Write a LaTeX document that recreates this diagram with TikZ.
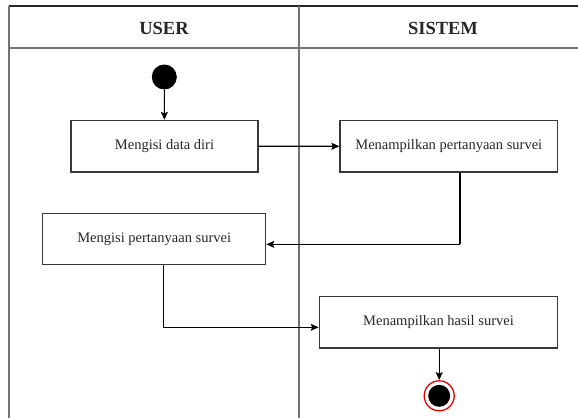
\documentclass[tikz,border=0pt]{standalone}
\usepackage{fontspec}
\setmainfont{Liberation Serif}
\usetikzlibrary{arrows.meta}
\begin{document}
\begin{tikzpicture}[x=1bp,y=-1bp,
  lane/.style={draw=black!55, line width=2bp},
  topline/.style={draw=black!85, line width=1.5bp},
  head/.style={font=\fontsize{18.5bp}{22bp}\selectfont\bfseries, text=black!85},
  act/.style={draw=black!78, line width=1.2bp, fill=white, inner sep=0pt,
    minimum height=51.5bp, font=\fontsize{14.5bp}{17bp}\selectfont, text=black!85},
  flow/.style={draw=black, line width=1.1bp, -{Stealth[length=8bp,width=7bp,inset=1.5bp]}},
  line/.style={draw=black, line width=1.1bp}]
  \useasboundingbox (0,0) rectangle (578,417);
  \fill[white] (0,0) rectangle (578,417);
  \clip (0,0) rectangle (578,417);

  % swimlane frame
  \draw[topline] (8.7,6) -- (585,6);
  \draw[lane] (8.7,6) -- (8.7,425);
  \draw[lane] (8.7,47.7) -- (585,47.7);
  \draw[lane] (299,6) -- (299,425);
  \node[head] (huser) at (164,28) {USER};
  \node[head] (hsistem) at (443,28) {SISTEM};

  % states and activities
  \fill[black] (164.3,77) circle (12.5);
  \node[circle, minimum size=25bp, inner sep=0pt] (start) at (164.3,77) {};
  \node[act, minimum width=187bp] (isi) at (164.5,146.2) {Mengisi data diri};
  \node[act, minimum width=217.7bp] (tanya) at (448.8,146.3) {Menampilkan pertanyaan survei};
  \node[act, minimum width=223bp] (jawab) at (154.2,239) {Mengisi pertanyaan survei};
  \node[act, minimum width=238.4bp] (hasil) at (438.5,322.2) {Menampilkan hasil survei};
  \node[circle, draw=red!90!black, line width=1.3bp, fill=white,
        minimum size=30bp, inner sep=0pt] (end) at (439.2,395.8) {};
  \fill[black] (end.center) circle (11);

  % flows
  \coordinate (k1) at (460,244.3);
  \coordinate (k2) at (163.3,327.3);
  \draw[flow] (start) -- (isi);
  \draw[flow] (isi) -- (tanya);
  \draw[line] (k1 |- tanya.south) -- (k1);
  \draw[flow] (k1) -- (k1 -| jawab.east);
  \draw[line] (k2 |- jawab.south) -- (k2);
  \draw[flow] (k2) -- (k2 -| hasil.west);
  \draw[flow] (hasil.south -| end) -- (end);
\end{tikzpicture}
\end{document}
